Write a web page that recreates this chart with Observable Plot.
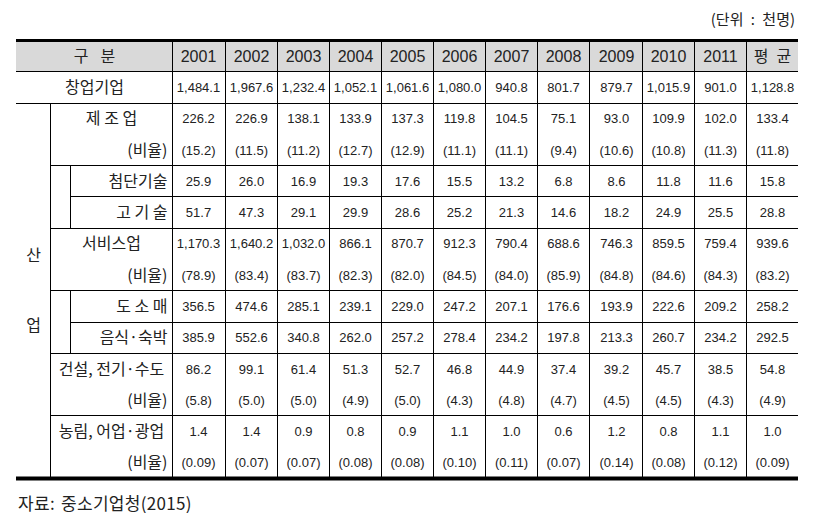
<!DOCTYPE html>
<html><head><meta charset="utf-8">
<script src="https://cdn.jsdelivr.net/npm/d3@7"></script>
<script src="https://cdn.jsdelivr.net/npm/@observablehq/plot@0.6"></script>
<style>
body{margin:0;background:#fff;}
#unit{height:20px;padding-top:9px;line-height:20px;text-align:right;padding-right:20px;font-size:15px;word-spacing:4px;font-family:"Noto Sans CJK KR",sans-serif;color:#222;}
#source{padding-top:11px;line-height:20px;padding-left:18px;font-size:17px;word-spacing:2px;letter-spacing:0.3px;font-family:"Noto Sans CJK KR",sans-serif;color:#222;}
</style></head><body>
<div id="unit">(단위 : 천명)</div>
<div id="chart"></div>
<div id="source">자료: 중소기업청(2015)</div>
<script>
// ---- data ----
const headerLabel = "구 분";
const columns = ["2001","2002","2003","2004","2005","2006","2007","2008","2009","2010","2011","평 균"];
const groupLabel = ["산", "업"];
const startups = [1484.1,1967.6,1232.4,1052.1,1061.6,1080.0,940.8,801.7,879.7,1015.9,901.0,1128.8];
const manufacturing = [226.2,226.9,138.1,133.9,137.3,119.8,104.5,75.1,93.0,109.9,102.0,133.4];
const manufacturingShare = [15.2,11.5,11.2,12.7,12.9,11.1,11.1,9.4,10.6,10.8,11.3,11.8];
const highTech = [25.9,26.0,16.9,19.3,17.6,15.5,13.2,6.8,8.6,11.8,11.6,15.8];
const upperTech = [51.7,47.3,29.1,29.9,28.6,25.2,21.3,14.6,18.2,24.9,25.5,28.8];
const services = [1170.3,1640.2,1032.0,866.1,870.7,912.3,790.4,688.6,746.3,859.5,759.4,939.6];
const servicesShare = [78.9,83.4,83.7,82.3,82.0,84.5,84.0,85.9,84.8,84.6,84.3,83.2];
const retail = [356.5,474.6,285.1,239.1,229.0,247.2,207.1,176.6,193.9,222.6,209.2,258.2];
const foodLodging = [385.9,552.6,340.8,262.0,257.2,278.4,234.2,197.8,213.3,260.7,234.2,292.5];
const construction = [86.2,99.1,61.4,51.3,52.7,46.8,44.9,37.4,39.2,45.7,38.5,54.8];
const constructionShare = [5.8,5.0,5.0,4.9,5.0,4.3,4.8,4.7,4.5,4.5,4.3,4.9];
const agriculture = [1.4,1.4,0.9,0.8,0.9,1.1,1.0,0.6,1.2,0.8,1.1,1.0];
const agricultureShare = [0.09,0.07,0.07,0.08,0.08,0.10,0.11,0.07,0.14,0.08,0.12,0.09];

// row structure: level 0 = whole label column, 1 = inside 산업 group, 2 = sub-group
const rows = [
  {label:"창업기업", values:startups, level:0},
  {label:"제 조 업", values:manufacturing, level:1},
  {label:"(비율)", values:manufacturingShare, level:1, share:true},
  {label:"첨단기술", values:highTech, level:2},
  {label:"고 기 술", values:upperTech, level:2},
  {label:"서비스업", values:services, level:1},
  {label:"(비율)", values:servicesShare, level:1, share:true},
  {label:"도 소 매", values:retail, level:2},
  {label:"음식·숙박", values:foodLodging, level:2},
  {label:"건설, 전기·수도", values:construction, level:1},
  {label:"(비율)", values:constructionShare, level:1, share:true},
  {label:"농림, 어업·광업", values:agriculture, level:1},
  {label:"(비율)", values:agricultureShare, level:1, share:true, digits:2}
];

// ---- layout (in column / row units) ----
const labelSpan = 3;
const nCols = labelSpan + columns.length;
const nRows = 1 + rows.length;
const indent = [0, 0.66, 1.03];
const groupCharGap = 2.24;
const levels = [0, ...rows.map(r => r.level)];
const shares = [false, ...rows.map(r => !!r.share)];
const wide = (s, sp) => s.replace(/ /g, sp);

const fmtVal = d3.format(",.1f");
const cellText = (r, v) => r.share ? "(" + d3.format("." + (r.digits || 1) + "f")(v) + ")" : fmtVal(v);

const headerCells = columns.map((c, j) => ({x: labelSpan + j + 0.5, y: 0.5, text: wide(c, "\u2002")}));
const dataCells = rows.flatMap((r, i) => r.values.map((v, j) => ({x: labelSpan + j + 0.5, y: i + 1.5, text: cellText(r, v)})));

const labelsCenter = rows.map((r, i) => ({r, i})).filter(({r}) => !r.share && r.level < 2)
  .map(({r, i}) => ({x: (indent[r.level] + labelSpan) / 2, y: i + 1.5, text: r.label}));
labelsCenter.push({x: labelSpan / 2, y: 0.5, text: wide(headerLabel, "\u2002\u2005")});
const labelsRight = rows.map((r, i) => ({r, i})).filter(({r}) => r.share || r.level === 2)
  .map(({r, i}) => ({x: labelSpan, y: i + 1.5, text: r.label}));

const groupStart = levels.findIndex(l => l >= 1);
const groupMid = (groupStart + nRows) / 2;
const groupText = groupLabel.map((t, i) => ({
  x: indent[1] / 2,
  y: groupMid + (i - (groupLabel.length - 1) / 2) * groupCharGap,
  text: t
}));

// horizontal rules
const hThin = [];
for (let k = 1; k < nRows; k++) {
  if (shares[k]) continue;
  hThin.push({y: k, x1: indent[Math.min(levels[k - 1], levels[k])], x2: nCols});
}
const hTop = [{y: 0, x1: 0, x2: nCols}];
const hBottom = [{y: nRows, x1: 0, x2: nCols}];

// vertical rules
const vLines = [];
for (let c = labelSpan; c < nCols; c++) vLines.push({x: c, y1: 0, y2: nRows});
vLines.push({x: indent[1], y1: groupStart, y2: nRows});
for (let k = 1; k < nRows; k++) {
  if (levels[k] === 2 && levels[k - 1] !== 2) {
    let e = k; while (e < nRows && levels[e] === 2) e++;
    vLines.push({x: indent[2], y1: k, y2: e});
  }
}

const ko = "Noto Sans CJK KR, sans-serif";
const num = "Liberation Sans, Arial, Noto Sans CJK KR, sans-serif";

const chart = Plot.plot({
  width: 815, height: 453,
  marginLeft: 16, marginRight: 17, marginTop: 11, marginBottom: 4,
  x: {domain: [0, nCols], axis: null, round: true},
  y: {domain: [0, nRows], reverse: true, axis: null, round: true},
  marks: [
    Plot.rect([{x1: 0, x2: nCols, y1: 0, y2: 1}], {x1: "x1", x2: "x2", y1: "y1", y2: "y2", fill: "#d9d9d9"}),
    Plot.ruleY(hThin, {y: "y", x1: "x1", x2: "x2", stroke: "#000", strokeWidth: 1}),
    Plot.ruleX(vLines, {x: "x", y1: "y1", y2: "y2", stroke: "#000", strokeWidth: 1}),
    Plot.ruleY(hTop, {y: "y", x1: "x1", x2: "x2", stroke: "#000", strokeWidth: 3}),
    Plot.ruleY(hBottom, {y: "y", x1: "x1", x2: "x2", stroke: "#000", strokeWidth: 4}),
    Plot.text(headerCells, {x: "x", y: "y", text: "text", fontSize: 16, fontFamily: num, fill: "#222"}),
    Plot.text(dataCells, {x: "x", y: "y", text: "text", fontSize: 13, fontFamily: num, fill: "#222"}),
    Plot.text(labelsCenter, {x: "x", y: "y", text: "text", fontSize: 16, fontFamily: ko, fill: "#222"}),
    Plot.text(labelsRight, {x: "x", y: "y", text: "text", fontSize: 16, fontFamily: ko, fill: "#222", textAnchor: "end", dx: -5}),
    Plot.text(groupText, {x: "x", y: "y", text: "text", fontSize: 16, fontFamily: ko, fill: "#222"})
  ]
});
document.getElementById("chart").appendChild(chart);
</script>
</body></html>
